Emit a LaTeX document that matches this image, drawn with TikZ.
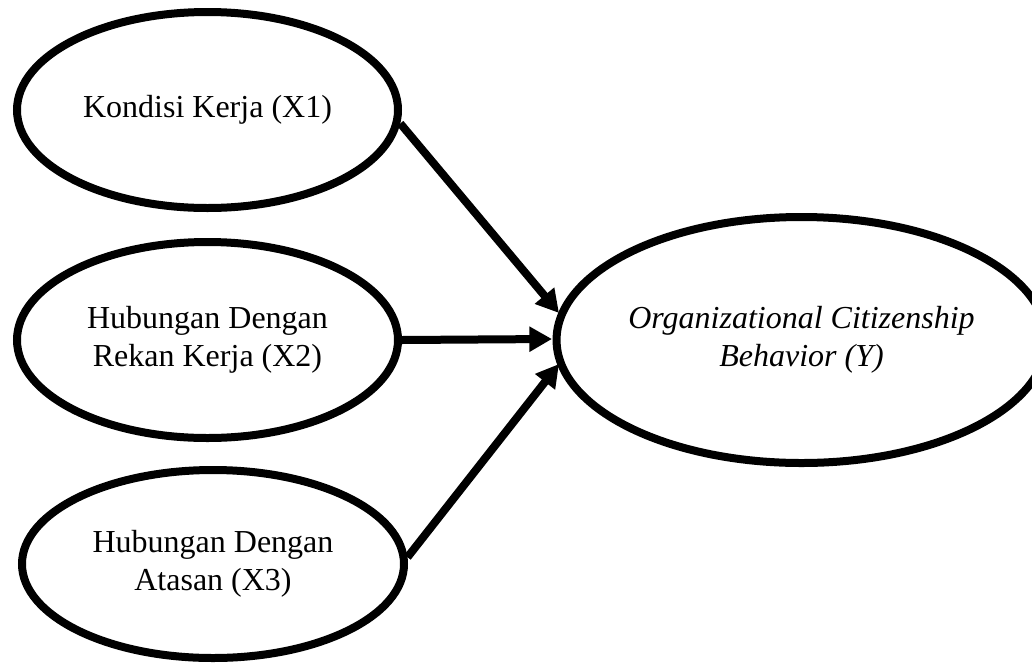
\documentclass[tikz,border=0pt]{standalone}
\usepackage{fontspec}
\setmainfont{Liberation Serif}
\usetikzlibrary{shapes.geometric,arrows.meta}
\begin{document}
\begin{tikzpicture}[x=0.75pt,y=-0.75pt,
  var/.style={ellipse,draw=black,line width=6pt,inner sep=0pt,align=center,
    font=\fontsize{24pt}{28.5pt}\selectfont},
  link/.style={line width=6pt,-{Triangle[length=17pt,width=18pt]}}]
\useasboundingbox (0,0) rectangle (1032,665);
\node[var,minimum width=285.75pt,minimum height=147pt] (X1) at (207.5,110) {Kondisi Kerja (X1)};
\node[var,minimum width=285.75pt,minimum height=147pt] (X2) at (207.5,340) {Hubungan Dengan\\Rekan Kerja (X2)};
\node[var,minimum width=286.5pt,minimum height=141pt] (X3) at (213,564) {Hubungan Dengan\\Atasan (X3)};
\node[var,minimum width=336.75pt,minimum height=184.5pt,font=\fontsize{24pt}{28.5pt}\selectfont\itshape] (Y) at (801.5,340) {Organizational Citizenship\\Behavior (Y)};
\coordinate (t1) at (559,313);
\coordinate (t2) at (552,339);
\coordinate (t3) at (559,364);
\draw[link] (X1.-4) -- (t1);
\draw[link] (X2.east) -- (t2);
\draw[link] (X3.2) -- (t3);
\end{tikzpicture}
\end{document}
